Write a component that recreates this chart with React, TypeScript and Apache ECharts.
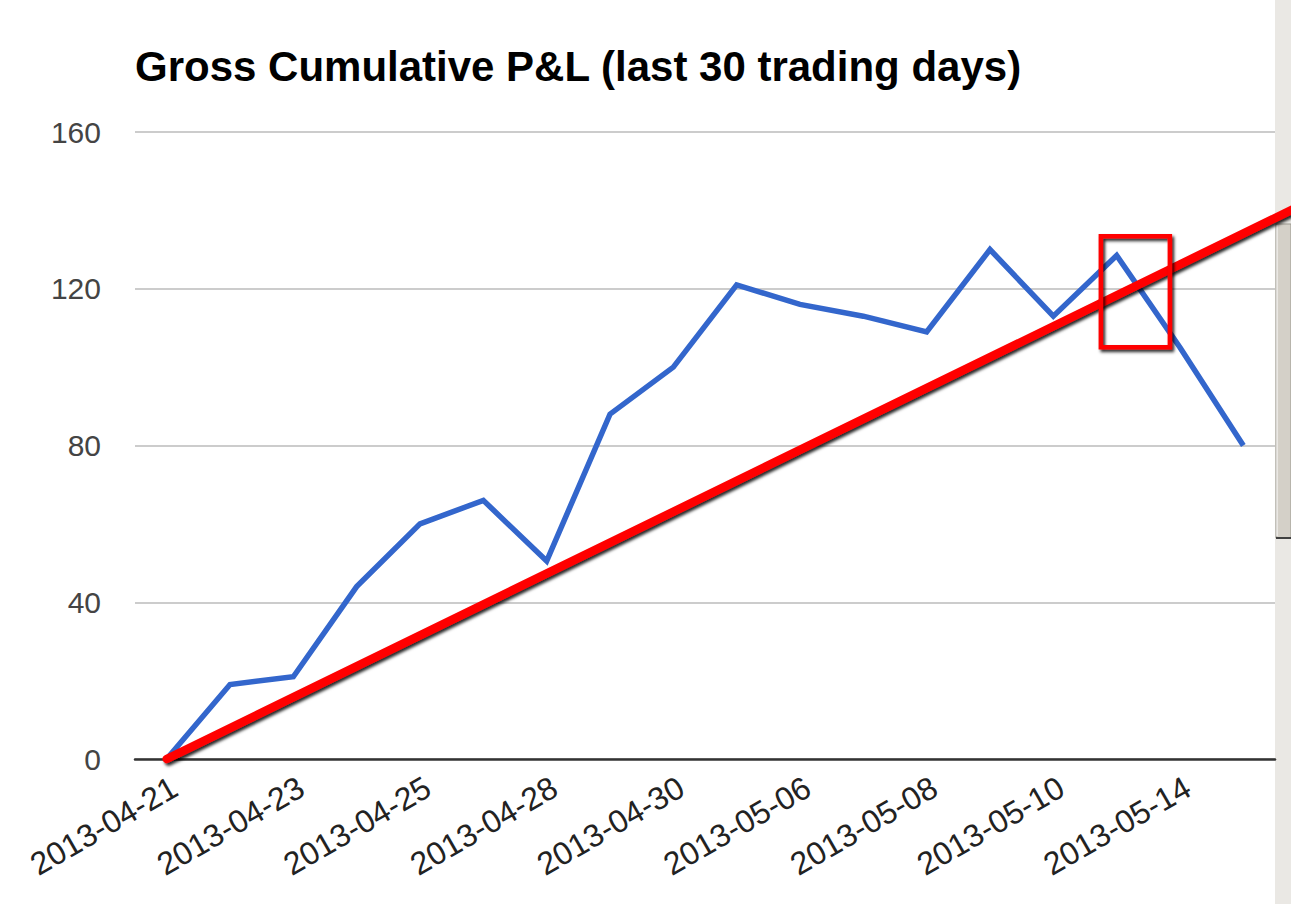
import React, { useEffect, useRef } from "react";
import * as echarts from "echarts";

const dates = [
  "2013-04-21", "2013-04-22", "2013-04-23", "2013-04-24", "2013-04-25", "2013-04-26",
  "2013-04-28", "2013-04-29", "2013-04-30", "2013-05-02", "2013-05-06", "2013-05-07",
  "2013-05-08", "2013-05-09", "2013-05-10", "2013-05-13", "2013-05-14", "2013-05-15",
];
const pnl = [0, 19, 21, 44, 60, 66, 50.5, 88, 100, 121, 116, 113, 109, 130, 113, 128.5, 105, 80];
const yMin = 0;
const yMax = 160;
const yStep = 40;
// trend line (annotation) in category-index / value space: [x0, y0, x1, y1]
const trendLine = [0, 0, 17.9, 141.2];
// highlight box (annotation): [x0, y0, x1, y1]
const highlightBox = [14.75, 133.4, 15.84, 105.1];

export default function App() {
  const ref = useRef<HTMLDivElement>(null);
  useEffect(() => {
    if (!ref.current) return;
    const chart = echarts.init(ref.current, null, { renderer: "svg" });
    const font = "'Liberation Sans', Arial, sans-serif";
    const shadow = {
      shadowColor: "rgba(0,0,0,0.85)",
      shadowBlur: 3,
      shadowOffsetX: 2,
      shadowOffsetY: 2.5,
    };
    chart.setOption({
      animation: false,
      backgroundColor: "#ffffff",
      title: {
        text: "Gross Cumulative P&L (last 30 trading days)",
        left: 130,
        top: 40,
        textStyle: { fontFamily: font, fontSize: 42, fontWeight: "bold", color: "#000" },
      },
      grid: { left: 135, right: 16, top: 132, bottom: 145 },
      xAxis: [
        {
          type: "category",
          data: dates,
          boundaryGap: true,
          axisLine: { show: true, onZero: false, lineStyle: { color: "#333", width: 2.5 } },
          axisTick: { show: false },
          axisLabel: {
            interval: 1,
            rotate: 30,
            align: "right",
            verticalAlign: "top",
            fontFamily: font,
            fontSize: 32,
            color: "#222",
            margin: 12,
          },
          splitLine: { show: false },
        },
        { type: "value", min: -0.5, max: 17.5, show: false },
      ],
      yAxis: {
        type: "value",
        min: yMin,
        max: yMax,
        interval: yStep,
        axisLine: { show: false },
        axisTick: { show: false },
        axisLabel: { fontFamily: font, fontSize: 30, color: "#444", margin: 34 },
        splitLine: { lineStyle: { color: "#cccccc", width: 2 } },
      },
      series: [
        {
          type: "line",
          data: pnl,
          xAxisIndex: 0,
          symbol: "none",
          z: 5,
          lineStyle: { color: "#3366cc", width: 5.5, join: "miter" },
        },
        {
          type: "custom",
          xAxisIndex: 1,
          yAxisIndex: 0,
          z: 10,
          clip: false,
          silent: true,
          data: [trendLine],
          encode: { x: [0, 2], y: [1, 3] },
          renderItem: (_params: any, api: any) => {
            const p0 = api.coord([api.value(0), api.value(1)]);
            const p1 = api.coord([api.value(2), api.value(3)]);
            return {
              type: "line",
              shape: { x1: p0[0], y1: p0[1], x2: p1[0], y2: p1[1] },
              style: { stroke: "#ff0000", lineWidth: 8.5, lineCap: "round", fill: null, ...shadow },
            };
          },
        },
        {
          type: "custom",
          xAxisIndex: 1,
          yAxisIndex: 0,
          z: 11,
          clip: false,
          silent: true,
          data: [highlightBox],
          encode: { x: [0, 2], y: [1, 3] },
          renderItem: (_params: any, api: any) => {
            const p0 = api.coord([api.value(0), api.value(1)]);
            const p1 = api.coord([api.value(2), api.value(3)]);
            return {
              type: "rect",
              shape: {
                x: Math.min(p0[0], p1[0]),
                y: Math.min(p0[1], p1[1]),
                width: Math.abs(p1[0] - p0[0]),
                height: Math.abs(p1[1] - p0[1]),
              },
              style: { fill: "none", stroke: "#ff0000", lineWidth: 4.5, ...shadow },
            };
          },
        },
      ],
      graphic: {
        elements: [
          { type: "rect", z: -10, shape: { x: 1275, y: 0, width: 16, height: 904 }, style: { fill: "#eae8e4" } },
          { type: "rect", z: -10, shape: { x: 1276, y: 224, width: 15, height: 314 }, style: { fill: "#d4d0c8", stroke: "#9a988f", lineWidth: 1 } },
          { type: "line", z: -10, shape: { x1: 1277, y1: 225, x2: 1277, y2: 536 }, style: { stroke: "#ffffff", lineWidth: 1 } },
          { type: "line", z: -10, shape: { x1: 1276, y1: 538, x2: 1291, y2: 538 }, style: { stroke: "#404040", lineWidth: 2 } },
        ],
      },
    });
    return () => chart.dispose();
  }, []);
  return (
    <div
      ref={ref}
      style={{ position: "absolute", left: 0, top: 0, width: 1291, height: 904 }}
    />
  );
}
